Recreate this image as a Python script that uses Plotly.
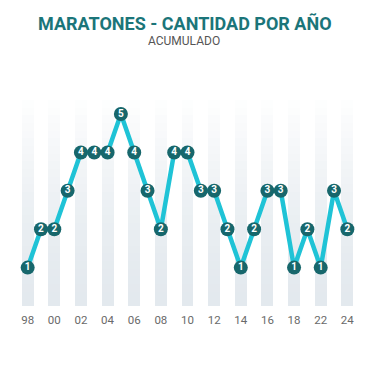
import plotly.graph_objects as go

years = ['98', '99', '00', '01', '02', '03', '04', '05', '06', '07', '08', '09',
         '10', '11', '12', '13', '14', '15', '16', '17', '18', '19', '22', '23', '24']
counts = [1, 2, 2, 3, 4, 4, 4, 5, 4, 3, 2, 4, 4, 3, 3, 2, 1, 2, 3, 3, 1, 2, 1, 3, 2]
tick_years = years[::2]
stripe_top = 5.6

W, H = 367, 358
L, R, T, B = 13, 21, 83, 60

fig = go.Figure()

# gradient background stripes (stacked segments)
n_seg = 28
seg_h = stripe_top / n_seg
bot = (227, 233, 238)
top = (255, 255, 255)
for i in range(n_seg):
    t = (i / (n_seg - 1)) ** 1.5
    c = tuple(round(bot[k] + (top[k] - bot[k]) * t) for k in range(3))
    fig.add_trace(go.Bar(
        x=tick_years, y=[seg_h] * len(tick_years), base=[i * seg_h - 0.03] * len(tick_years),
        width=0.9, marker=dict(color='rgb(%d,%d,%d)' % c, line=dict(width=0)),
        hoverinfo='skip', showlegend=False, cliponaxis=False))

fig.add_trace(go.Scatter(
    x=years, y=counts, mode='lines+markers+text',
    line=dict(color='#1fc3d6', width=4.5),
    marker=dict(size=14, color='#17676c', line=dict(width=0)),
    text=[str(v) for v in counts], textposition='middle center',
    textfont=dict(color='white', size=10, family='Roboto', weight='bold'),
    showlegend=False, cliponaxis=False))

plot_h = H - T - B
plot_w = W - L - R
def ypix(p):
    return (H - B - p) / plot_h
def xpix(p):
    return (p - L) / plot_w

fig.update_layout(
    width=W, height=H,
    margin=dict(l=L, r=R, t=T, b=B),
    paper_bgcolor='white', plot_bgcolor='white',
    barmode='overlay', bargap=0,
    font=dict(family='Roboto', color='#666666'),
    xaxis=dict(type='category', categoryorder='array', categoryarray=years,
               tickvals=tick_years, ticktext=tick_years, showgrid=False,
               zeroline=False, showline=False, ticks='', ticklabelstandoff=5,
               tickfont=dict(size=11.5, color='#6a6a6a'),
               range=[-0.5, len(years) - 0.5], fixedrange=True),
    yaxis=dict(range=[0, stripe_top], visible=False, fixedrange=True),
)
fig.add_annotation(text='<b>MARATONES - CANTIDAD POR AÑO</b>', x=xpix(177), xref='paper',
                   y=ypix(15), yref='paper', showarrow=False, xanchor='center', yanchor='middle',
                   font=dict(size=18, color='#1b7579', family='Roboto'))
fig.add_annotation(text='ACUMULADO', x=xpix(176), xref='paper', y=ypix(33), yref='paper',
                   showarrow=False, xanchor='center', yanchor='middle',
                   font=dict(size=12, color='#555555', family='Roboto'))

fig.write_html('out.html')
